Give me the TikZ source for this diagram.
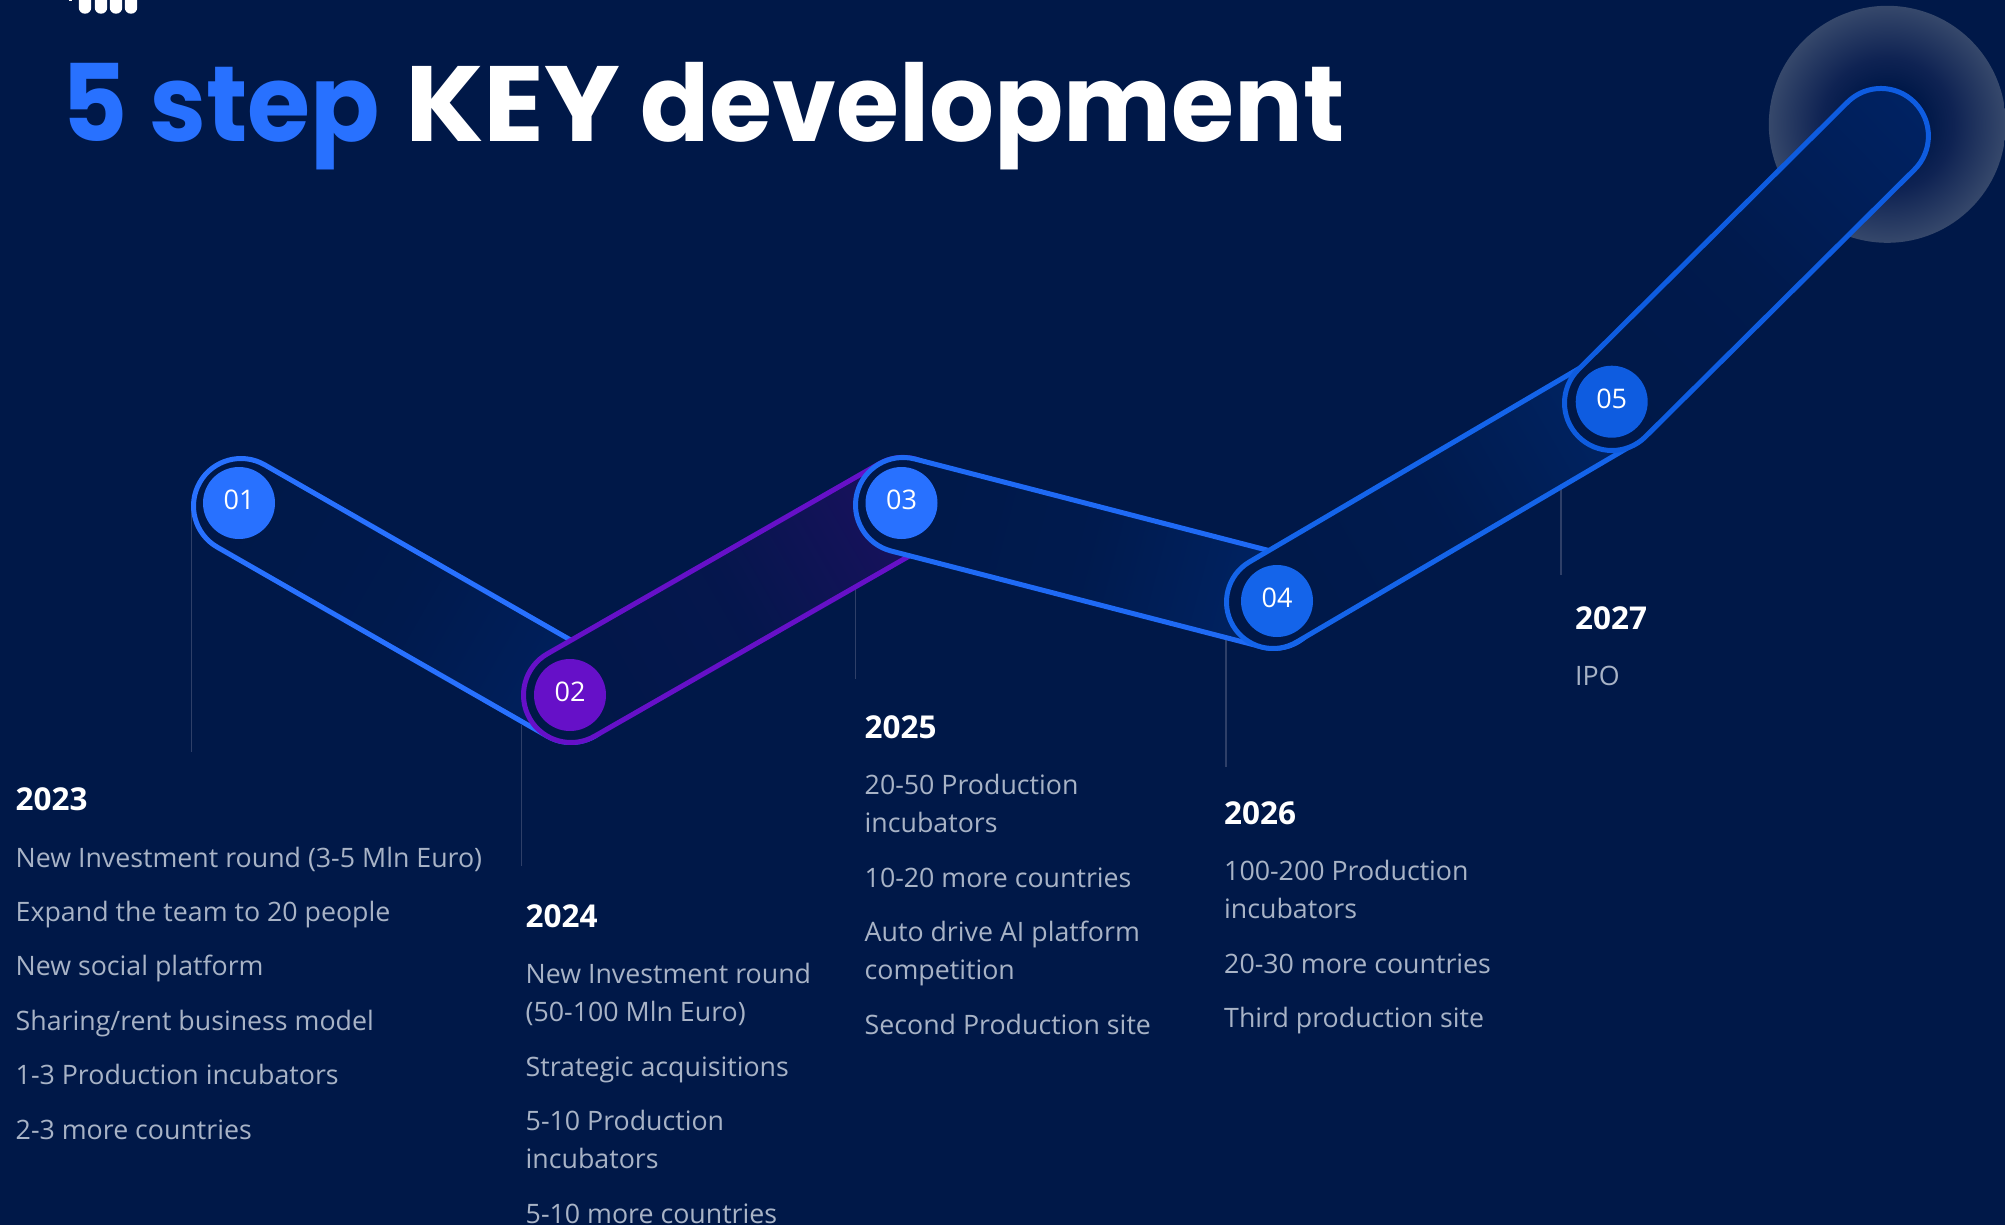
\documentclass[tikz,border=0pt]{standalone}
\usepackage{graphicx}
\usepackage{fontspec}
\setmainfont{Open Sans}
\newfontfamily\titlefont{Poppins}
\definecolor{bgc}{HTML}{001848}
\definecolor{blueA}{HTML}{2871FF}
\definecolor{purp}{HTML}{6610C8}
\definecolor{blueC}{HTML}{1F6AF5}
\definecolor{blueD}{HTML}{1464EA}
\definecolor{blueE}{HTML}{0E5CE0}
\definecolor{txtc}{HTML}{A8B3C6}
\definecolor{leadc}{HTML}{2E3F68}
\definecolor{glowedge}{HTML}{36486B}
\definecolor{glowmid}{HTML}{0F2353}
\definecolor{capA}{HTML}{002262}
\definecolor{capB}{HTML}{1E0F62}
\definecolor{capC}{HTML}{002568}
\definecolor{capD}{HTML}{002668}
\definecolor{capE}{HTML}{002262}
\pgfdeclareradialshading{glowshade}{\pgfpoint{0bp}{0bp}}{color(0bp)=(bgc); color(8bp)=(bgc); color(14bp)=(glowmid); color(25bp)=(glowedge); color(50bp)=(glowedge)}
\tikzset{
  yearlabel/.style={anchor=base west,inner sep=0pt,text=white,font=\fontsize{31.5}{36}\selectfont\bfseries},
  itemlabel/.style={anchor=base west,inner sep=0pt,text=txtc,font=\fontsize{26.75}{33}\selectfont},
  numdot/.style={circle,minimum size=72pt,inner sep=0pt},
  numlabel/.style={inner sep=0pt,text=white,font=\fontsize{27}{32}\selectfont},
  leader/.style={draw=leadc,line width=1.5pt},
  titlepart/.style={anchor=base west,inner sep=0pt,font=\titlefont\bfseries\fontsize{107}{120}\selectfont},
}
\newcommand{\capsuleat}[7]{% x y angle length stroke endcolor halfwidth
  \begin{scope}[transform canvas={shift={(#1,#2)},rotate=#3}]
    \path[line width=5pt,rounded corners=#7pt,draw=#5,left color=bgc,right color=#6,middle color=#6!18!bgc] (-#7,-#7) rectangle (#4+#7,#7);
  \end{scope}}
\begin{document}
\begin{tikzpicture}[x=1pt,y=-1pt]
\useasboundingbox (0,0) rectangle (2005,1225);
\clip (0,0) rectangle (2005,1225);
\fill[bgc] (0,0) rectangle (2005,1225);
% logo fragment
\foreach \lx in {85,101,116,131}{
  \fill[white,rounded corners=6pt] (\lx-6.2,-14) rectangle (\lx+6.2,13.7);
}
\fill[white] (68.5,0) rectangle (72,1.2);
% glow
\path[shading=glowshade] (1887.3,124.3) circle (118.5);
% leaders
\coordinate (l1a) at (191.5,510); \coordinate (l1b) at (191.5,751.5);
\coordinate (l2a) at (521.5,725); \coordinate (l2b) at (521.5,866);
\coordinate (l3a) at (855.7,585); \coordinate (l3b) at (855.7,679);
\coordinate (l4a) at (1226,630);  \coordinate (l4b) at (1226,767);
\coordinate (l5a) at (1561,480);  \coordinate (l5b) at (1561,575);
\draw[leader] (l1a)--(l1b);
\draw[leader] (l2a)--(l2b);
\draw[leader] (l3a)--(l3b);
\draw[leader] (l4a)--(l4b);
\draw[leader] (l5a)--(l5b);
% capsules
\capsuleat{241}{506}{-29.8}{380.3}{blueA}{capA}{47.5}
\capsuleat{571}{695}{29.8}{382.5}{purp}{capB}{47.5}
\capsuleat{903}{505}{-14.5}{383.2}{blueC}{capC}{47.5}
\capsuleat{1273}{602}{30.4}{393}{blueD}{capD}{46.5}
\capsuleat{1612}{403}{44.8}{379}{blueE}{capE}{47.5}
% dots
\node[numdot,fill=blueA] (n1) at (239,503) {};
\node[numdot,fill=purp] (n2) at (570,695) {};
\node[numdot,fill=blueA] (n3) at (901.5,503) {};
\node[numdot,fill=blueD] (n4) at (1277,601) {};
\node[numdot,fill=blueE] (n5) at (1611.7,401.7) {};
\node[numlabel] (m1) at ([yshift=3pt]n1.center) {01};
\node[numlabel] (m2) at ([yshift=3pt]n2.center) {02};
\node[numlabel] (m3) at ([yshift=3pt]n3.center) {03};
\node[numlabel] (m4) at ([yshift=3pt]n4.center) {04};
\node[numlabel] (m5) at ([yshift=3pt]n5.center) {05};
% title
\node[titlepart,text=blueA] (t1) at (61,142) {\scalebox{0.955}[1]{5 step}};
\node[titlepart,text=white] (t2) at (405,142) {\scalebox{1.055}[1]{KEY}};
\node[titlepart,text=white] (t3) at (640.5,142) {\scalebox{0.953}[1]{development}};
% 2023
\node[yearlabel] (a0) at (15.5,810) {2023};
\node[itemlabel] (a1) at (15.5,867) {New Investment round (3-5 Mln Euro)};
\node[itemlabel] (a2) at (15.5,921.5) {Expand the team to 20 people};
\node[itemlabel] (a3) at (15.5,975.5) {New social platform};
\node[itemlabel] (a4) at (15.5,1030) {Sharing/rent business model};
\node[itemlabel] (a5) at (15.5,1084.5) {1-3 Production incubators};
\node[itemlabel] (a6) at (15.5,1139) {2-3 more countries};
% 2024
\node[yearlabel] (b0) at (525.5,927) {2024};
\node[itemlabel] (b1) at (525.5,983.5) {New Investment round};
\node[itemlabel] (b2) at (525.5,1021.5) {(50-100 Mln Euro)};
\node[itemlabel] (b3) at (525.5,1076) {Strategic acquisitions};
\node[itemlabel] (b4) at (525.5,1130.5) {5-10 Production};
\node[itemlabel] (b5) at (525.5,1168.5) {incubators};
\node[itemlabel] (b6) at (525.5,1223) {5-10 more countries};
% 2025
\node[yearlabel] (c0) at (864.5,738) {2025};
\node[itemlabel] (c1) at (864.5,794) {20-50 Production};
\node[itemlabel] (c2) at (864.5,832) {incubators};
\node[itemlabel] (c3) at (864.5,887) {10-20 more countries};
\node[itemlabel] (c4) at (864.5,941.5) {Auto drive AI platform};
\node[itemlabel] (c5) at (864.5,979.5) {competition};
\node[itemlabel] (c6) at (864.5,1034) {Second Production site};
% 2026
\node[yearlabel] (d0) at (1224,824.5) {2026};
\node[itemlabel] (d1) at (1224,880.5) {100-200 Production};
\node[itemlabel] (d2) at (1224,918.5) {incubators};
\node[itemlabel] (d3) at (1224,973) {20-30 more countries};
\node[itemlabel] (d4) at (1224,1027.5) {Third production site};
% 2027
\node[yearlabel] (e0) at (1575,629.5) {2027};
\node[itemlabel] (e1) at (1575,685) {IPO};
\end{tikzpicture}
\end{document}
